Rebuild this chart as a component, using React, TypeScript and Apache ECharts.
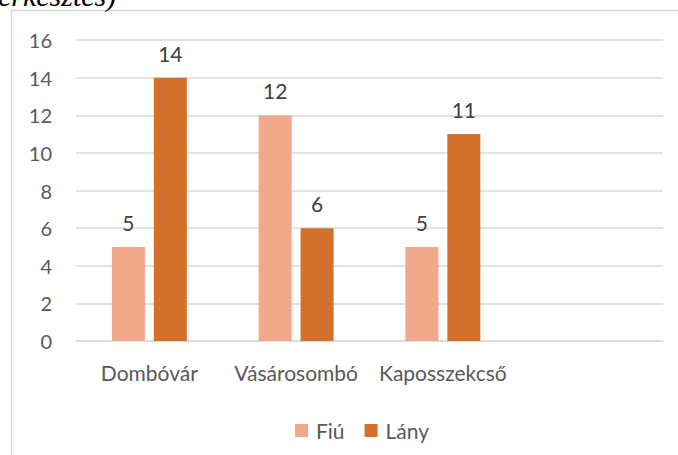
import React, { useEffect, useRef } from "react";
import * as echarts from "echarts";

const categories = ["Dombóvár", "Vásárosombó", "Kaposszekcső", ""];
const seriesNames = ["Fiú", "Lány"];
const fiuValues = [5, 12, 5, null];
const lanyValues = [14, 6, 11, null];
const yTicks = { min: 0, max: 16, interval: 2 };
const captionText = "erkesztés)";

const FONT = "Lato";
const TEXT = "#595959";

export default function App() {
  const ref = useRef<HTMLDivElement>(null);
  useEffect(() => {
    document.body.style.margin = "0";
    const chart = echarts.init(ref.current!, undefined, { renderer: "svg" });
    chart.setOption({
      animation: false,
      backgroundColor: "#ffffff",
      textStyle: { fontFamily: FONT },
      graphic: [
        {
          type: "rect",
          shape: { x: 11.5, y: 10.5, width: 720, height: 500 },
          style: { fill: "none", stroke: "#D9D9D9", lineWidth: 1.5 },
          silent: true,
        },
        {
          type: "text",
          x: -2,
          y: -5,
          style: {
            text: captionText,
            font: "italic 30px 'Liberation Serif'",
            fill: "#000000",
            verticalAlign: "middle",
            align: "left",
          },
          silent: true,
        },
      ],
      grid: { left: 76, right: 15, top: 40, bottom: 114, containLabel: false },
      legend: {
        data: seriesNames,
        left: 290,
        top: 415,
        itemWidth: 13,
        itemHeight: 13,
        itemGap: 20,
        icon: "rect",
        textStyle: { color: TEXT, fontSize: 21, fontFamily: FONT, padding: [0, 0, 0, 3] },
      },
      xAxis: {
        type: "category",
        data: categories,
        axisLine: { lineStyle: { color: "#D9D9D9", width: 1.5 } },
        axisTick: { show: false },
        axisLabel: { color: TEXT, fontSize: 21, fontFamily: FONT, margin: 21, interval: 0 },
      },
      yAxis: {
        type: "value",
        min: yTicks.min,
        max: yTicks.max,
        interval: yTicks.interval,
        axisLine: { show: false },
        axisTick: { show: false },
        splitLine: { lineStyle: { color: "#D9D9D9", width: 1.5 } },
        axisLabel: { color: TEXT, fontSize: 20, fontFamily: FONT, margin: 24 },
      },
      series: [
        {
          name: seriesNames[0],
          type: "bar",
          data: fiuValues,
          barWidth: 33,
          barGap: "27%",
          itemStyle: { color: "#F2A88A" },
          label: { show: true, position: "top", distance: 14, color: "#404040", fontSize: 21, fontFamily: FONT },
        },
        {
          name: seriesNames[1],
          type: "bar",
          data: lanyValues,
          barWidth: 33,
          barGap: "27%",
          itemStyle: { color: "#D3702C" },
          label: { show: true, position: "top", distance: 14, color: "#404040", fontSize: 21, fontFamily: FONT },
        },
      ],
    });
    return () => chart.dispose();
  }, []);
  return <div ref={ref} style={{ position: "fixed", left: 0, top: 0, width: 678, height: 455 }} />;
}
